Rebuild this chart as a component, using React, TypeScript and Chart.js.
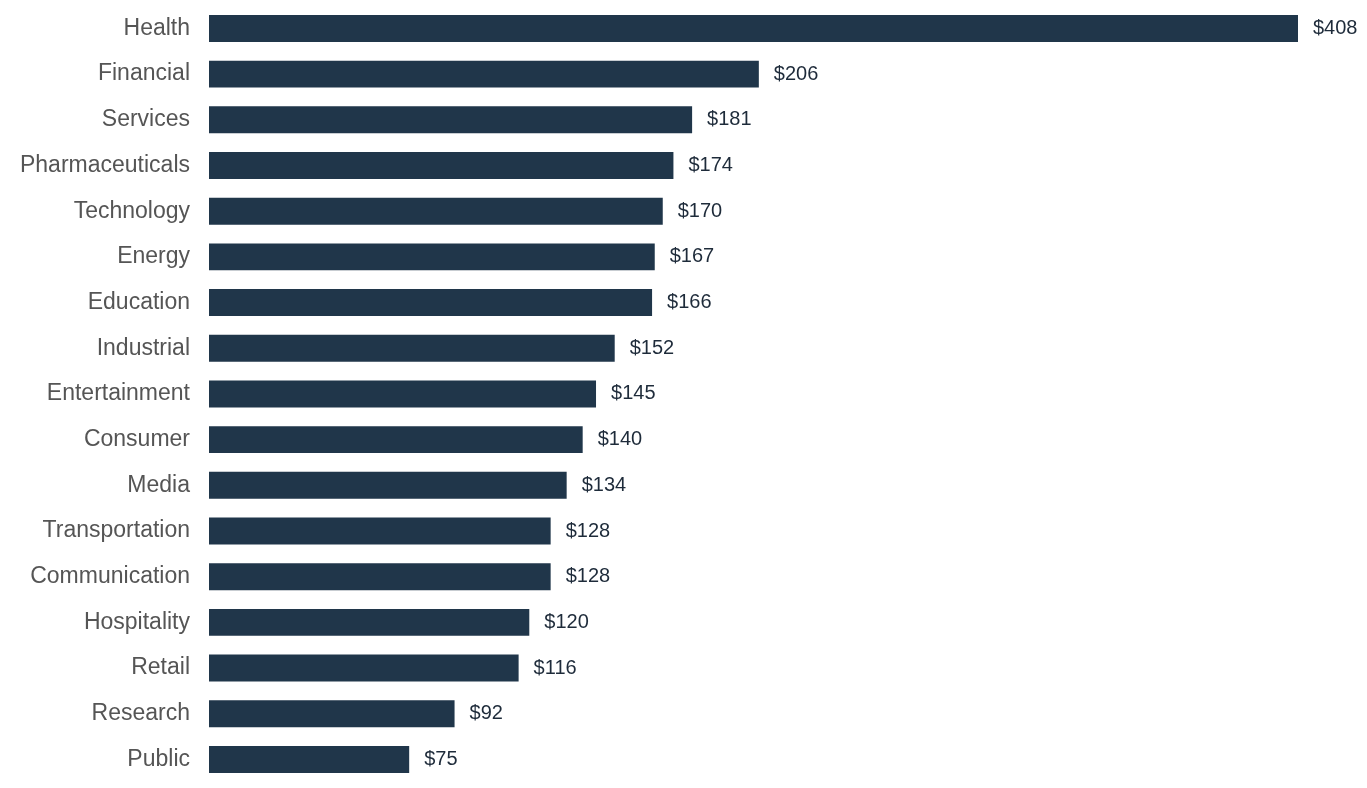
import React, { useEffect, useRef } from "react";
import { Chart, registerables } from "chart.js";

Chart.register(...registerables);

const categories = [
  "Health", "Financial", "Services", "Pharmaceuticals", "Technology", "Energy",
  "Education", "Industrial", "Entertainment", "Consumer", "Media", "Transportation",
  "Communication", "Hospitality", "Retail", "Research", "Public",
];
const values = [408, 206, 181, 174, 170, 167, 166, 152, 145, 140, 134, 128, 128, 120, 116, 92, 75];

const FONT = "'Liberation Sans', Arial, Helvetica, sans-serif";

const valueLabels = {
  id: "valueLabels",
  afterDatasetsDraw(chart: any) {
    const ctx = chart.ctx;
    const meta = chart.getDatasetMeta(0);
    ctx.save();
    ctx.font = `20px ${FONT}`;
    ctx.fillStyle = "#1e2b3a";
    ctx.textAlign = "left";
    ctx.textBaseline = "middle";
    meta.data.forEach((bar: any, i: number) => {
      ctx.fillText("$" + values[i], bar.x + 15, bar.y);
    });
    ctx.restore();
  },
};

export default function App() {
  const ref = useRef<HTMLCanvasElement | null>(null);
  useEffect(() => {
    if (!ref.current) return;
    const chart = new Chart(ref.current, {
      type: "bar",
      data: {
        labels: categories,
        datasets: [
          {
            data: values,
            backgroundColor: "#20364a",
            categoryPercentage: 0.59,
            barPercentage: 1,
          },
        ],
      },
      options: {
        indexAxis: "y",
        animation: false,
        responsive: false,
        layout: { padding: { top: 5.6, bottom: 5.7, right: 69, left: 0 } },
        plugins: { legend: { display: false }, tooltip: { enabled: false } },
        scales: {
          x: {
            min: 0,
            max: 408,
            display: false,
          },
          y: {
            grid: { display: false, drawTicks: false },
            border: { display: false },
            ticks: {
              color: "#555555",
              font: { family: FONT, size: 23 },
              padding: 19,
            },
            afterFit(scale: any) {
              scale.width = 209;
              scale.paddingTop = 0;
              scale.paddingBottom = 0;
            },
          },
        },
      },
      plugins: [valueLabels],
    });
    return () => chart.destroy();
  }, []);
  return (
    <div style={{ position: "absolute", left: 0, top: 0, width: 1367, height: 788, background: "#fff" }}>
      <canvas ref={ref} width={1367} height={788} style={{ display: "block" }} />
    </div>
  );
}
